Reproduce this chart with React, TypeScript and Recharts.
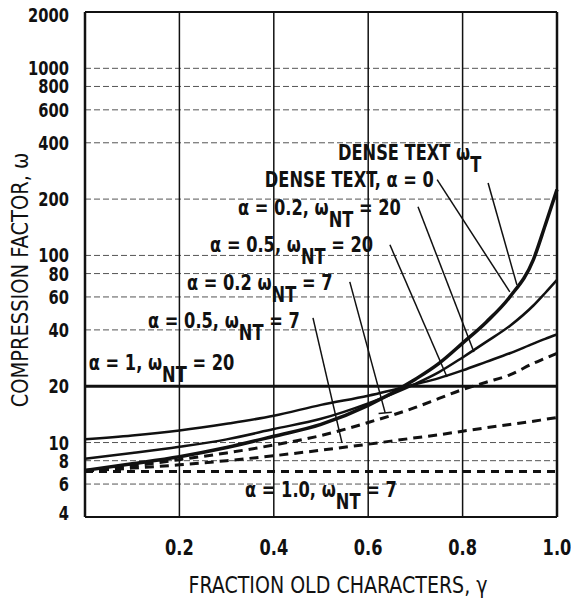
import React from "react";
import { LineChart, Line, XAxis, YAxis, CartesianGrid, ReferenceLine, ReferenceDot } from "recharts";

// fraction of old characters
const gamma = [0, 0.1, 0.2, 0.3, 0.4, 0.5, 0.6, 0.7, 0.75, 0.8, 0.85, 0.9, 0.95, 0.975, 1.0];
// compression factor series
const denseText = [7.1, 7.7, 8.4, 9.4, 10.8, 12.5, 15.8, 21.8, 26.5, 34, 44, 60, 95, 145, 225];
const a02nt20 = [8.2, 8.8, 9.5, 10.4, 11.8, 13.4, 16.2, 20.6, 23.8, 28.5, 34.5, 42, 54, 63, 74];
const a05nt20 = [10.4, 10.9, 11.6, 12.6, 13.9, 15.9, 17.8, 20.5, 22.1, 24.3, 27, 30, 33.8, 35.8, 37.8];
const a1nt20 = [20, 20, 20, 20, 20, 20, 20, 20, 20, 20, 20, 20, 20, 20, 20];
const a02nt7 = [7.1, 7.5, 8.1, 8.8, 9.7, 10.9, 12.8, 15.4, 17.2, 19.2, 21, 23, 26.5, 28.2, 30];
const a05nt7 = [7.05, 7.3, 7.6, 8.0, 8.5, 9.1, 9.8, 10.6, 11.0, 11.5, 12.0, 12.5, 13.0, 13.3, 13.6];
const a1nt7 = [7, 7, 7, 7, 7, 7, 7, 7, 7, 7, 7, 7, 7, 7, 7];

const xTicks = [0.2, 0.4, 0.6, 0.8, 1.0];
const xGrid = [0.2, 0.4, 0.6, 0.8];
const yTicks = [4, 6, 8, 10, 20, 40, 60, 80, 100, 200, 400, 600, 800, 1000, 2000];

const xTitle = "FRACTION OLD CHARACTERS, \u03B3";
const yTitle = "COMPRESSION FACTOR, \u03C9";

// annotation labels (data coordinates of text start / baseline)
const labels = [
  { x: 0.536, y: 324, pre: "DENSE TEXT \u03C9", sub: "T", post: "" },
  { x: 0.381, y: 233, pre: "DENSE TEXT, \u03B1 = 0", sub: "", post: "" },
  { x: 0.324, y: 165, pre: "\u03B1 = 0.2, \u03C9", sub: "NT", post: " = 20" },
  { x: 0.265, y: 104.5, pre: "\u03B1 = 0.5, \u03C9", sub: "NT", post: " = 20" },
  { x: 0.216, y: 65.4, pre: "\u03B1 = 0.2 \u03C9", sub: "NT", post: " = 7" },
  { x: 0.1335, y: 41, pre: "\u03B1 = 0.5, \u03C9", sub: "NT", post: " = 7" },
  { x: 0.008, y: 24.4, pre: "\u03B1 = 1, \u03C9", sub: "NT", post: " = 20" },
  { x: 0.339, y: 5.12, pre: "\u03B1 = 1.0, \u03C9", sub: "NT", post: " = 7" },
];

// leader lines [x1, y1, x2, y2] in data coordinates
const leaders = [
  [0.854, 244, 0.915, 69.6],
  [0.746, 254, 0.9, 63.9],
  [0.7055, 182, 0.824, 30.5],
  [0.646, 114, 0.767, 22.4],
  [0.561, 72.2, 0.636, 14.4],
  [0.622, 14.3, 0.65, 14.5],
  [0.483, 46.4, 0.5445, 9.95],
];

const data = gamma.map((g, i) => ({
  g,
  dense: denseText[i],
  a02nt20: a02nt20[i],
  a05nt20: a05nt20[i],
  a1nt20: a1nt20[i],
  a02nt7: a02nt7[i],
  a05nt7: a05nt7[i],
  a1nt7: a1nt7[i],
}));

const FONT = "'DejaVu Sans Condensed', 'DejaVu Sans', sans-serif";
const INK = "#111";

const YTick = (props: any) => {
  const { x, y, payload } = props;
  const v = payload.value;
  const dy = v === 2000 ? 10 : v === 4 ? 3 : 7;
  return (
    <text transform={`translate(${x},${y + dy}) scale(0.86,1)`} x={0} y={0} textAnchor="end" fontFamily={FONT} fontSize={19} fontWeight="bold" fill={INK}>
      {v}
    </text>
  );
};

const XTick = (props: any) => {
  const { x, y, payload } = props;
  return (
    <text transform={`translate(${x},${y + 38}) scale(0.82,1)`} x={0} y={0} textAnchor="middle" fontFamily={FONT} fontSize={22} fontWeight="bold" fill={INK}>
      {Number(payload.value).toFixed(1)}
    </text>
  );
};

const XTitle = (props: any) => {
  const vb = props.viewBox || { x: 0, y: 0, width: 0 };
  const x = vb.x + vb.width / 2 + 17;
  const y = vb.y + 76;
  return (
    <text transform={`translate(${x},${y}) scale(0.92,1)`} x={0} y={0} textAnchor="middle" fontFamily={FONT} fontSize={23} fill={INK}>
      {xTitle}
    </text>
  );
};

const YTitle = () => {
  const cx = 28;
  const cy = 280;
  return (
    <text transform={`translate(${cx},${cy}) rotate(-90) scale(0.94,1)`} x={0} y={0} textAnchor="middle" fontFamily={FONT} fontSize={23} fill={INK}>
      {yTitle}
    </text>
  );
};

const makeLabel = (l: any) => (props: any) => {
  const { cx, cy } = props;
  return (
    <text transform={`translate(${cx},${cy}) scale(0.86,1)`} x={0} y={0} fontFamily={FONT} fontSize={21} fontWeight="bold" fill={INK}>
      {l.pre}
      {l.sub ? <tspan dy={12}>{l.sub}</tspan> : null}
      {l.post ? <tspan dy={-12}>{l.post}</tspan> : null}
    </text>
  );
};

export default function App() {
  return (
    <div style={{ position: "absolute", left: 0, top: 0, width: 571, height: 601 }}>
      <LineChart width={571} height={601} data={data} margin={{ top: 12, right: 14, bottom: 0, left: 0 }}>
        <CartesianGrid horizontal={true} vertical={false} stroke="#555" strokeDasharray="6 3" strokeWidth={1} />
        <XAxis
          dataKey="g"
          type="number"
          domain={[0, 1]}
          ticks={xTicks}
          interval={0}
          height={84}
          tickSize={0}
          tickMargin={0}
          tickLine={false}
          axisLine={false}
          tick={<XTick />}
          label={<XTitle />}
        />
        <YAxis
          type="number"
          scale="log"
          domain={[4, 2000]}
          ticks={yTicks}
          interval={0}
          allowDataOverflow
          width={85}
          tickSize={0}
          tickMargin={16}
          tickLine={false}
          axisLine={false}
          tick={<YTick />}
          label={<YTitle />}
        />
        {xGrid.map((v) => (
          <ReferenceLine key={"xg" + v} x={v} stroke={INK} strokeWidth={1.5} />
        ))}
        <ReferenceLine x={0} stroke={INK} strokeWidth={2.5} />
        <ReferenceLine x={1} stroke={INK} strokeWidth={2.5} />
        <ReferenceLine y={4} stroke={INK} strokeWidth={2} />
        <ReferenceLine y={2000} stroke={INK} strokeWidth={2} />
        {leaders.map((s, i) => (
          <ReferenceLine
            key={"ld" + i}
            segment={[{ x: s[0], y: s[1] }, { x: s[2], y: s[3] }]}
            stroke={INK}
            strokeWidth={1.5}
          />
        ))}
        <Line dataKey="a1nt20" type="linear" stroke={INK} strokeWidth={3} dot={false} isAnimationActive={false} />
        <Line dataKey="a1nt7" type="linear" stroke={INK} strokeWidth={3} strokeDasharray="8 6" dot={false} isAnimationActive={false} />
        <Line dataKey="a05nt7" type="monotone" stroke={INK} strokeWidth={3} strokeDasharray="9 6" dot={false} isAnimationActive={false} />
        <Line dataKey="a02nt7" type="monotone" stroke={INK} strokeWidth={3} strokeDasharray="9 6" dot={false} isAnimationActive={false} />
        <Line dataKey="a05nt20" type="monotone" stroke={INK} strokeWidth={2.5} dot={false} isAnimationActive={false} />
        <Line dataKey="a02nt20" type="monotone" stroke={INK} strokeWidth={2.5} dot={false} isAnimationActive={false} />
        <Line dataKey="dense" type="monotone" stroke={INK} strokeWidth={3.5} dot={false} isAnimationActive={false} />
        {labels.map((l, i) => (
          <ReferenceDot key={"lb" + i} x={l.x} y={l.y} r={0} shape={makeLabel(l)} />
        ))}
      </LineChart>
    </div>
  );
}
